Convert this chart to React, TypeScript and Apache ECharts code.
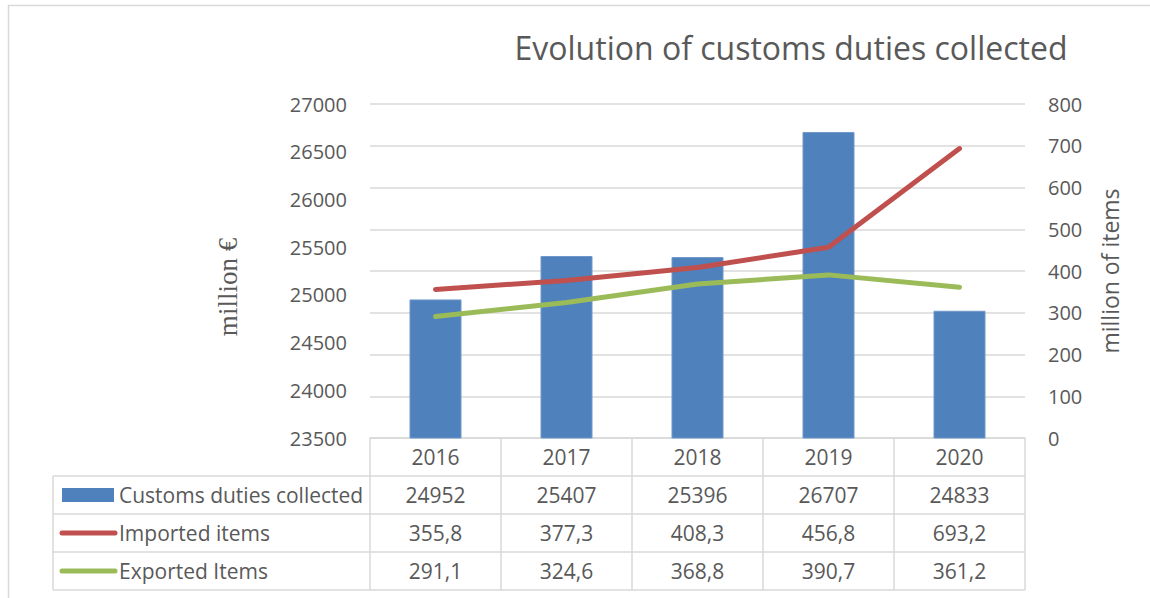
import React, { useEffect, useRef } from "react";
import * as echarts from "echarts";

const years = ["2016", "2017", "2018", "2019", "2020"];
const duties = [24952, 25407, 25396, 26707, 24833];
const imported = [355.8, 377.3, 408.3, 456.8, 693.2];
const exported = [291.1, 324.6, 368.8, 390.7, 361.2];
const seriesNames = ["Customs duties collected", "Imported items", "Exported Items"];
const titleText = "Evolution of customs duties collected";

const W = 1150;
const H = 598;
const GL = 370;
const GR = 1025;
const GT = 104;
const GB = 438;
const ROW = 38;
const LEG_LEFT = 53;
const FONT = "'Open Sans', 'Noto Sans', sans-serif";
const TXT = "#595959";
const LINE = "#d9d9d9";

const fmt = (v: number, dec: number) =>
  dec === 0 ? String(v) : v.toFixed(dec).replace(".", ",");

export default function App() {
  const ref = useRef<HTMLDivElement>(null);
  useEffect(() => {
    if (!ref.current) return;
    const chart = echarts.init(ref.current, null, { renderer: "svg" });
    const colW = (GR - GL) / years.length;
    const graphics: any[] = [];
    graphics.push({
      type: "rect",
      shape: { x: 8.5, y: 5.5, width: W, height: H },
      style: { fill: "none", stroke: LINE, lineWidth: 1.5 },
      silent: true,
    });
    const tableBottom = GB + ROW * 4;
    for (let i = 0; i <= years.length; i++) {
      const x = GL + i * colW;
      graphics.push({
        type: "line",
        shape: { x1: x, y1: GB, x2: x, y2: tableBottom },
        style: { stroke: LINE, lineWidth: 1.5 },
      });
    }
    graphics.push({
      type: "line",
      shape: { x1: LEG_LEFT, y1: GB + ROW, x2: LEG_LEFT, y2: tableBottom },
      style: { stroke: LINE, lineWidth: 1.5 },
    });
    for (let r = 1; r <= 4; r++) {
      const y = GB + ROW * r;
      graphics.push({
        type: "line",
        shape: { x1: LEG_LEFT, y1: y, x2: GR, y2: y },
        style: { stroke: LINE, lineWidth: 1.5 },
      });
    }
    const rows = [
      { vals: duties, dec: 0, color: "#4F81BD", kind: "bar" },
      { vals: imported, dec: 1, color: "#C0504D", kind: "line" },
      { vals: exported, dec: 1, color: "#9BBB59", kind: "line" },
    ];
    rows.forEach((row, r) => {
      const cy = GB + ROW * (r + 1) + ROW / 2;
      if (row.kind === "bar") {
        graphics.push({
          type: "rect",
          shape: { x: 62, y: cy - 7, width: 52, height: 14 },
          style: { fill: row.color },
        });
      } else {
        graphics.push({
          type: "line",
          shape: { x1: 62, y1: cy, x2: 115, y2: cy },
          style: { stroke: row.color, lineWidth: 5, lineCap: "round" },
        });
      }
      graphics.push({
        type: "text",
        x: 119,
        y: cy,
        style: {
          text: seriesNames[r],
          fill: TXT,
          font: `21px ${FONT}`,
          align: "left",
          verticalAlign: "middle",
        },
      });
      row.vals.forEach((v, i) => {
        graphics.push({
          type: "text",
          x: GL + colW * (i + 0.5),
          y: cy,
          style: {
            text: fmt(v, row.dec),
            fill: TXT,
            font: `21px ${FONT}`,
            align: "center",
            verticalAlign: "middle",
          },
        });
      });
    });
    graphics.push({
      type: "text",
      x: 228,
      y: 287,
      rotation: Math.PI / 2,
      style: {
        text: "million €",
        fill: TXT,
        font: "27px 'Liberation Serif', 'DejaVu Serif', serif",
        align: "center",
        verticalAlign: "middle",
      },
    });
    graphics.push({
      type: "text",
      x: 1110,
      y: 271,
      rotation: Math.PI / 2,
      style: {
        text: "million of items",
        fill: TXT,
        font: `23px ${FONT}`,
        align: "center",
        verticalAlign: "middle",
      },
    });

    chart.setOption({
      animation: false,
      title: {
        text: titleText,
        left: 786,
        top: 26,
        textAlign: "center",
        textStyle: { fontSize: 32, fontWeight: "normal", color: TXT, fontFamily: FONT },
      },
      grid: { left: GL, right: W - GR, top: GT, bottom: H - GB, containLabel: false },
      xAxis: {
        type: "category",
        data: years,
        axisLine: { show: true, lineStyle: { color: LINE, width: 1.5 } },
        axisTick: { show: false },
        axisLabel: { color: TXT, fontSize: 21, fontFamily: FONT, margin: 8 },
      },
      yAxis: [
        {
          type: "value",
          min: 23500,
          max: 27000,
          interval: 500,
          splitLine: { show: false },
          axisLine: { show: false },
          axisTick: { show: false },
          axisLabel: {
            color: TXT,
            fontSize: 20,
            fontFamily: FONT,
            margin: 23,
            formatter: (v: number) => String(v),
          },
        },
        {
          type: "value",
          min: 0,
          max: 800,
          interval: 100,
          position: "right",
          splitLine: { show: true, lineStyle: { color: LINE, width: 1.5 } },
          axisLine: { show: false },
          axisTick: { show: false },
          axisLabel: {
            color: TXT,
            fontSize: 20,
            fontFamily: FONT,
            margin: 23,
            formatter: (v: number) => String(v),
          },
        },
      ],
      series: [
        {
          name: seriesNames[0],
          type: "bar",
          data: duties,
          yAxisIndex: 0,
          barWidth: 52,
          itemStyle: { color: "#4F81BD", borderColor: "#6f97c9", borderWidth: 1 },
        },
        {
          name: seriesNames[1],
          type: "line",
          data: imported,
          yAxisIndex: 1,
          symbol: "none",
          lineStyle: { color: "#C0504D", width: 5, cap: "round", join: "round" },
          z: 3,
        },
        {
          name: seriesNames[2],
          type: "line",
          data: exported,
          yAxisIndex: 1,
          symbol: "none",
          lineStyle: { color: "#9BBB59", width: 5, cap: "round", join: "round" },
          z: 3,
        },
      ],
      graphic: graphics,
    });
    return () => chart.dispose();
  }, []);
  return (
    <div
      ref={ref}
      style={{ position: "fixed", left: 0, top: 0, width: W, height: H, background: "#fff" }}
    />
  );
}
